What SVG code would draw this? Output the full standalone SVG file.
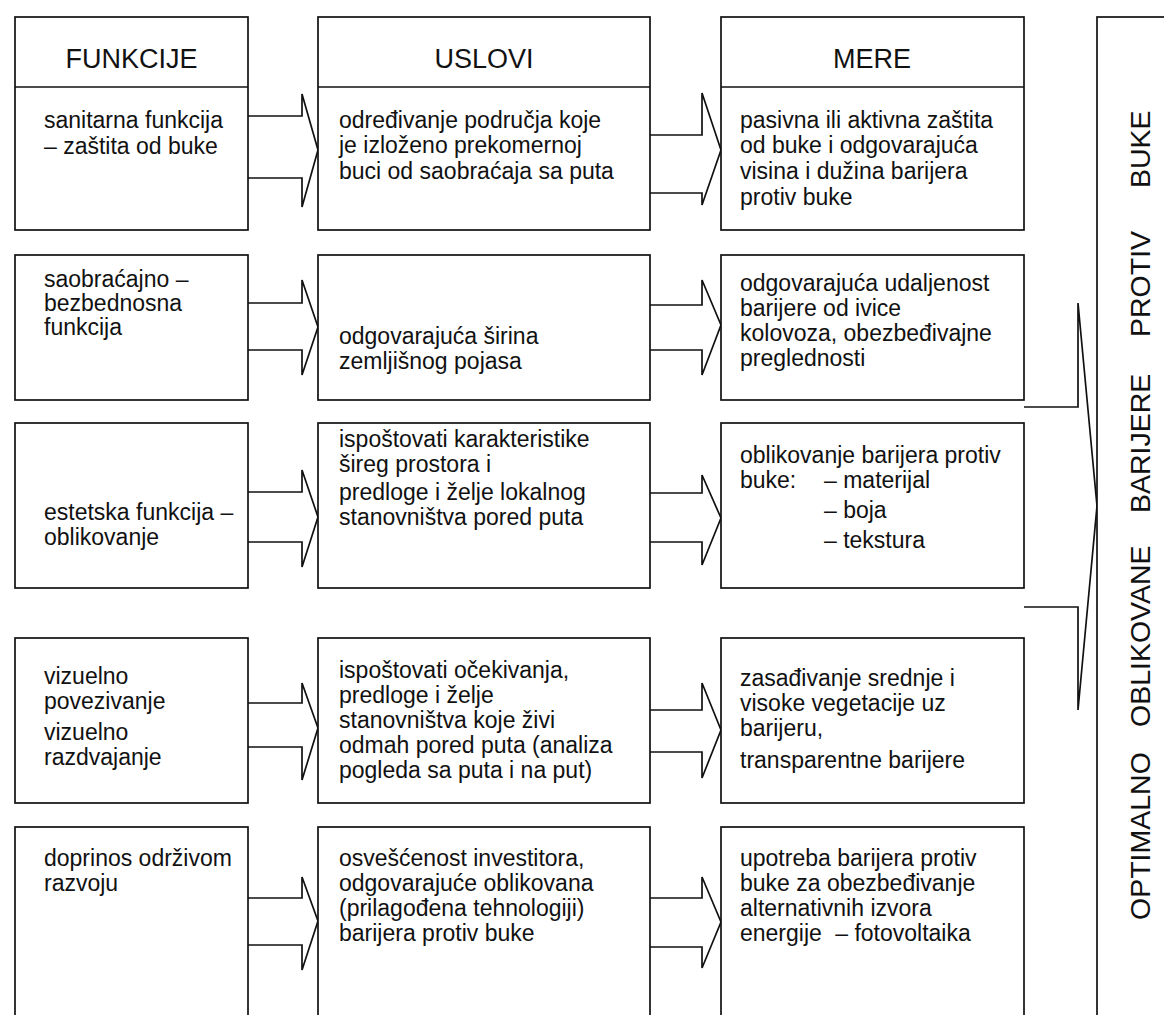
<svg xmlns="http://www.w3.org/2000/svg" width="1164" height="1015" viewBox="0 0 1164 1015">
<style>
.box{fill:#fff;stroke:#111;stroke-width:1.7}
.arr{fill:none;stroke:#111;stroke-width:1.7;stroke-linejoin:miter}
.t{font-family:"Liberation Sans",Arial,sans-serif;font-size:23px;fill:#111}
.h{font-family:"Liberation Sans",Arial,sans-serif;font-size:27px;fill:#111;text-anchor:middle}
.v{font-family:"Liberation Sans",Arial,sans-serif;font-size:28.5px;fill:#111}
</style>
<rect width="1164" height="1015" fill="#fff"/>
<g id="connectors">
<path class="arr" d="M248,116 H302 V94 L318,150 L302,207 V178 H248"/>
<path class="arr" d="M650,135 H702 V93 L721,150 L702,205 V193 H650"/>
<path class="arr" d="M248,303 H302 V280 L318,327 L302,375 V350 H248"/>
<path class="arr" d="M650,305 H702 V280 L721,325 L702,375 V350 H650"/>
<path class="arr" d="M248,492 H302 V470 L318,517 L302,567 V542 H248"/>
<path class="arr" d="M650,493 H702 V475 L721,518 L702,565 V542 H650"/>
<path class="arr" d="M248,703 H302 V683 L318,728 L302,780 V747 H248"/>
<path class="arr" d="M650,710 H702 V683 L721,730 L702,778 V752 H650"/>
<path class="arr" d="M248,898 H302 V877 L318,921 L302,970 V945 H248"/>
<path class="arr" d="M650,898 H702 V877 L721,922 L702,968 V947 H650"/>
<path class="arr" d="M1024,407 H1078 V303 L1097,506 L1078,710 V607 H1024"/>
</g>
<g id="funkcije">
<rect class="box" x="15" y="17" width="233" height="213"/>
<line class="box" x1="15" y1="87" x2="248" y2="87"/>
<text class="h" x="131.5" y="68">FUNKCIJE</text>
<text class="t" x="44" y="128">sanitarna funkcija</text>
<text class="t" x="44" y="154">– zaštita od buke</text>
</g>
<g id="uslovi">
<rect class="box" x="318" y="17" width="332" height="213"/>
<line class="box" x1="318" y1="87" x2="650" y2="87"/>
<text class="h" x="484" y="68">USLOVI</text>
<text class="t" x="339" y="128">određivanje područja koje</text>
<text class="t" x="339" y="153">je izloženo prekomernoj</text>
<text class="t" x="339" y="179">buci od saobraćaja sa puta</text>
</g>
<g id="mere">
<rect class="box" x="721" y="17" width="303" height="213"/>
<line class="box" x1="721" y1="87" x2="1024" y2="87"/>
<text class="h" x="872" y="68">MERE</text>
<text class="t" x="740" y="128">pasivna ili aktivna zaštita</text>
<text class="t" x="740" y="153">od buke i odgovarajuća</text>
<text class="t" x="740" y="179">visina i dužina barijera</text>
<text class="t" x="740" y="205">protiv buke</text>
</g>
<g id="f2">
<rect class="box" x="15" y="255" width="233" height="145"/>
<text class="t" x="44" y="287">saobraćajno –</text>
<text class="t" x="44" y="311">bezbednosna</text>
<text class="t" x="44" y="335">funkcija</text>
</g>
<g id="u2">
<rect class="box" x="318" y="255" width="332" height="145"/>
<text class="t" x="339" y="344">odgovarajuća širina</text>
<text class="t" x="339" y="369">zemljišnog pojasa</text>
</g>
<g id="m2">
<rect class="box" x="721" y="255" width="303" height="145"/>
<text class="t" x="740" y="291">odgovarajuća udaljenost</text>
<text class="t" x="740" y="316">barijere od ivice</text>
<text class="t" x="740" y="341">kolovoza, obezbeđivajne</text>
<text class="t" x="740" y="366">preglednosti</text>
</g>
<g id="f3">
<rect class="box" x="15" y="423" width="233" height="165"/>
<text class="t" x="44" y="520">estetska funkcija –</text>
<text class="t" x="44" y="545">oblikovanje</text>
</g>
<g id="u3">
<rect class="box" x="318" y="423" width="332" height="165"/>
<text class="t" x="339" y="447">ispoštovati karakteristike</text>
<text class="t" x="339" y="472">šireg prostora i</text>
<text class="t" x="339" y="500">predloge i želje lokalnog</text>
<text class="t" x="339" y="525">stanovništva pored puta</text>
</g>
<g id="m3">
<rect class="box" x="721" y="423" width="303" height="165"/>
<text class="t" x="740" y="463">oblikovanje barijera protiv</text>
<text class="t" x="740" y="488">buke:<tspan x="824">– materijal</tspan></text>
<text class="t" x="824" y="518">– boja</text>
<text class="t" x="824" y="548">– tekstura</text>
</g>
<g id="f4">
<rect class="box" x="15" y="638" width="233" height="165"/>
<text class="t" x="44" y="684">vizuelno</text>
<text class="t" x="44" y="709">povezivanje</text>
<text class="t" x="44" y="740">vizuelno</text>
<text class="t" x="44" y="765">razdvajanje</text>
</g>
<g id="u4">
<rect class="box" x="318" y="638" width="332" height="165"/>
<text class="t" x="339" y="678">ispoštovati očekivanja,</text>
<text class="t" x="339" y="703">predloge i želje</text>
<text class="t" x="339" y="728">stanovništva koje živi</text>
<text class="t" x="339" y="753">odmah pored puta (analiza</text>
<text class="t" x="339" y="778">pogleda sa puta i na put)</text>
</g>
<g id="m4">
<rect class="box" x="721" y="638" width="303" height="165"/>
<text class="t" x="740" y="686">zasađivanje srednje i</text>
<text class="t" x="740" y="711">visoke vegetacije uz</text>
<text class="t" x="740" y="736">barijeru,</text>
<text class="t" x="740" y="768">transparentne barijere</text>
</g>
<g id="f5">
<rect class="box" x="15" y="827" width="233" height="200"/>
<text class="t" x="44" y="866">doprinos održivom</text>
<text class="t" x="44" y="891">razvoju</text>
</g>
<g id="u5">
<rect class="box" x="318" y="827" width="332" height="200"/>
<text class="t" x="339" y="866">osvešćenost investitora,</text>
<text class="t" x="339" y="891">odgovarajuće oblikovana</text>
<text class="t" x="339" y="916">(prilagođena tehnologiji)</text>
<text class="t" x="339" y="941">barijera protiv buke</text>
</g>
<g id="m5">
<rect class="box" x="721" y="827" width="303" height="200"/>
<text class="t" x="740" y="866">upotreba barijera protiv</text>
<text class="t" x="740" y="891">buke za obezbeđivanje</text>
<text class="t" x="740" y="916">alternativnih izvora</text>
<text class="t" x="740" y="941">energije <tspan dx="7">– fotovoltaika</tspan></text>
</g>
<g id="panel">
<rect class="box" x="1097" y="17" width="90" height="1010"/>
<text class="v" transform="translate(1150,0) rotate(-90)"><tspan x="-920">OPTIMALNO</tspan><tspan x="-727">OBLIKOVANE</tspan><tspan x="-513">BARIJERE</tspan><tspan x="-337">PROTIV</tspan><tspan x="-188">BUKE</tspan></text>
</g>
</svg>
